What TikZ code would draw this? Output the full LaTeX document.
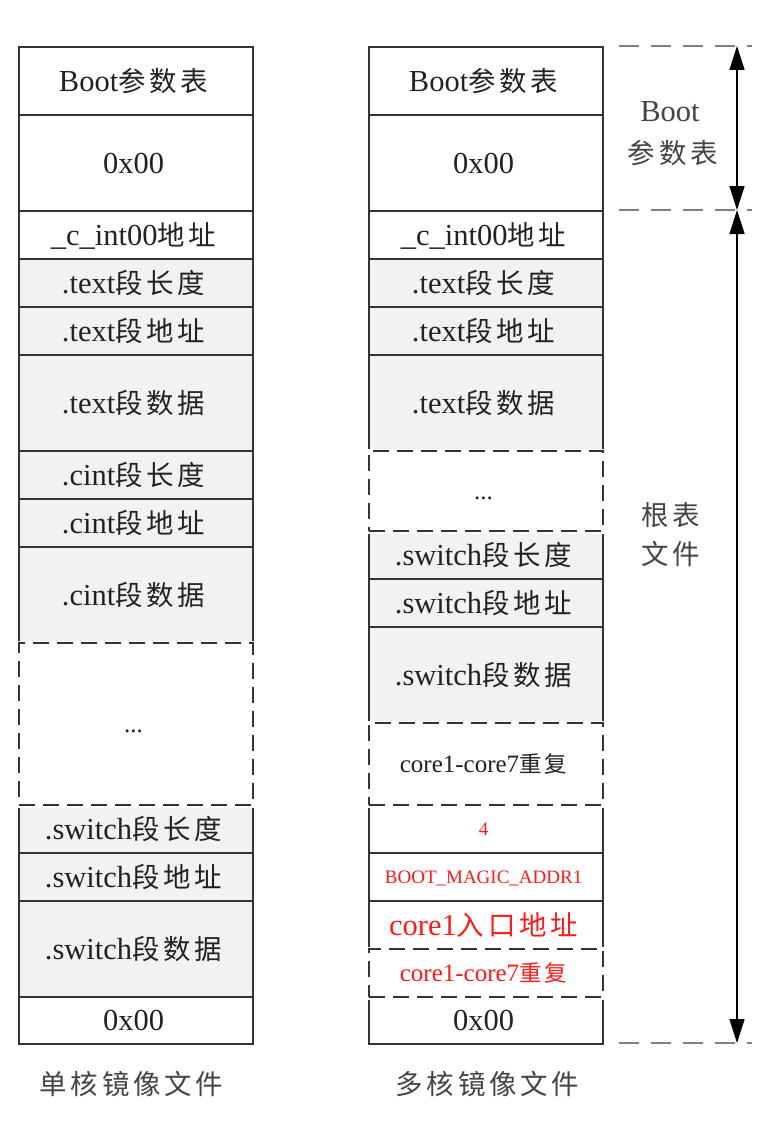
\documentclass[tikz,border=0pt]{standalone}
\usepackage{fontspec}
\setmainfont{Liberation Serif}
\newfontfamily\cjkf[Scale=0.9,LetterSpace=14]{Noto Sans CJK SC}
\newcommand\C[1]{{\cjkf #1}}
\usetikzlibrary{arrows.meta}
\definecolor{frame}{HTML}{333333}
\definecolor{gfill}{HTML}{F2F2F2}
\definecolor{txt}{HTML}{222222}
\definecolor{redt}{HTML}{FF1A1A}
\definecolor{lbl}{HTML}{444444}
\definecolor{dgray}{HTML}{7F7F7F}
\begin{document}
\begin{tikzpicture}[x=1pt,y=-1pt,
  base/.style={anchor=north west, minimum width=234pt, inner sep=0pt, text=txt,
    font=\fontsize{30.5}{36}\selectfont, text height=21pt, text depth=1pt, line width=2.2pt,
    execute at end node={\kern5pt}},
  cell/.style={base, draw=frame, fill=white},
  gcell/.style={base, draw=frame, fill=gfill},
  dcell/.style={base, fill=white, draw=frame, dash pattern=on 16pt off 8pt,
    preaction={draw=white, solid, line width=5pt}},
  small/.style={font=\fontsize{25}{30}\selectfont, text height=17pt, text depth=1pt},
  tiny/.style={font=\fontsize{19}{23}\selectfont, text height=13pt, text depth=0.5pt},
  red/.style={text=redt},
  side/.style={text=lbl, font=\fontsize{30.5}{36}\selectfont, inner sep=0pt,
    text height=21pt, text depth=1pt},
  guide/.style={draw=dgray, line width=2pt, dash pattern=on 20pt off 12pt},
  arr/.style={draw=black, line width=1.5pt,
    arrows={Triangle[width=15pt,length=24pt]-Triangle[width=15pt,length=24pt]}}
]
\fill[white] (0,0) rectangle (758,1124);
\useasboundingbox (0,0) rectangle (758,1124);

% ---- left column (single core) ----
\node[cell,  minimum height=68pt] (L1)  at (18,46)  {Boot\C{参数表}};
\node[cell,  minimum height=96pt] (L2)  at (18,114) {0x00};
\node[cell,  minimum height=48pt] (L3)  at (18,210) {\_c\_int00\C{地址}};
\node[gcell, minimum height=48pt] (L4)  at (18,258) {.text\C{段长度}};
\node[gcell, minimum height=48pt] (L5)  at (18,306) {.text\C{段地址}};
\node[gcell, minimum height=96pt] (L6)  at (18,354) {.text\C{段数据}};
\node[gcell, minimum height=48pt] (L7)  at (18,450) {.cint\C{段长度}};
\node[gcell, minimum height=48pt] (L8)  at (18,498) {.cint\C{段地址}};
\node[gcell, minimum height=96pt] (L9)  at (18,546) {.cint\C{段数据}};
\node[gcell, minimum height=48pt] (L11) at (18,804) {.switch\C{段长度}};
\node[gcell, minimum height=48pt] (L12) at (18,852) {.switch\C{段地址}};
\node[gcell, minimum height=96pt] (L13) at (18,900) {.switch\C{段数据}};
\node[cell,  minimum height=47pt] (L14) at (18,996) {0x00};

% ---- right column (multi core) ----
\node[cell,  minimum height=68pt] (R1)  at (368,46)  {Boot\C{参数表}};
\node[cell,  minimum height=96pt] (R2)  at (368,114) {0x00};
\node[cell,  minimum height=48pt] (R3)  at (368,210) {\_c\_int00\C{地址}};
\node[gcell, minimum height=48pt] (R4)  at (368,258) {.text\C{段长度}};
\node[gcell, minimum height=48pt] (R5)  at (368,306) {.text\C{段地址}};
\node[gcell, minimum height=96pt] (R6)  at (368,354) {.text\C{段数据}};
\node[gcell, minimum height=48pt] (R8)  at (368,530) {.switch\C{段长度}};
\node[gcell, minimum height=48pt] (R9)  at (368,578) {.switch\C{段地址}};
\node[gcell, minimum height=96pt] (R10) at (368,626) {.switch\C{段数据}};
\node[cell,  minimum height=48pt, tiny, red] (R12) at (368,804) {4};
\node[cell,  minimum height=48pt, tiny, red] (R13) at (368,852) {BOOT\_MAGIC\_ADDR1};
\node[cell,  minimum height=48pt, red] (R14) at (368,900) {core1\C{入口地址}};
\node[cell,  minimum height=47pt] (R16) at (368,996) {0x00};

% ---- dashed cells (drawn last) ----
\node[dcell, minimum height=162pt, small] (L10) at (18,642)  {...};
\node[dcell, minimum height=80pt,  small] (R7)  at (368,450) {...};
\node[dcell, minimum height=82pt,  small] (R11) at (368,722) {core1-core7\C{重复}};
\node[dcell, minimum height=48pt,  small, red] (R15) at (368,948) {core1-core7\C{重复}};

% ---- right-hand guides ----
\coordinate (g1a) at (619,46);   \coordinate (g1b) at (752,46);
\coordinate (g2a) at (619,210);  \coordinate (g2b) at (752,210);
\coordinate (g3a) at (619,1043); \coordinate (g3b) at (752,1043);
\draw[guide] (g1a) -- (g1b);
\draw[guide] (g2a) -- (g2b);
\draw[guide] (g3a) -- (g3b);
\coordinate (a1) at (737,46);
\coordinate (a2) at (737,210);
\coordinate (a3) at (737,1043);
\draw[arr] (a1) -- (a2);
\draw[arr] (a2) -- (a3);

\node[side] (s1) at (670,111) {Boot};
\node[side] (s2) at (673,153) {\C{参数表}};
\node[side] (s3) at (671,515) {\C{根表}};
\node[side] (s4) at (671,554) {\C{文件}};

% ---- captions ----
\node[side] (c1) at (131.5,1084) {\C{单核镜像文件}};
\node[side] (c2) at (487.5,1084) {\C{多核镜像文件}};
\end{tikzpicture}
\end{document}
